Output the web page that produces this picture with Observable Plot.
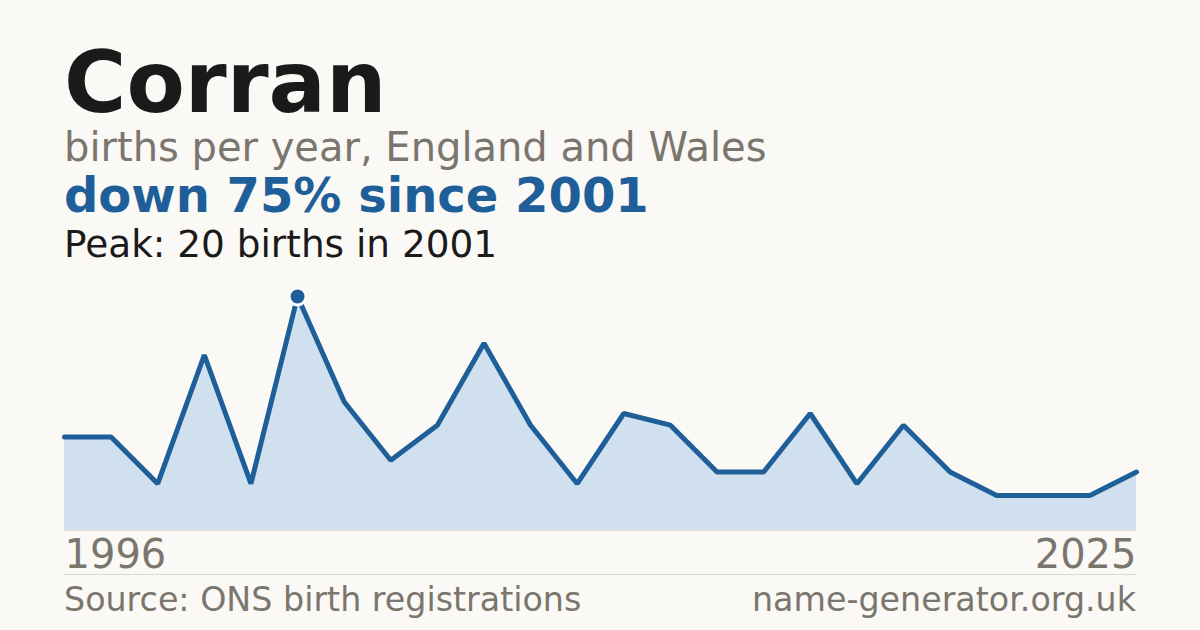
<!DOCTYPE html>
<html>
<head>
<meta charset="utf-8">
<script src="https://cdn.jsdelivr.net/npm/d3@7"></script>
<script src="https://cdn.jsdelivr.net/npm/@observablehq/plot@0.6"></script>
<style>
  html, body { margin: 0; padding: 0; background: #faf9f5; }
  body { width: 1200px; height: 630px; position: relative; overflow: hidden; font-family: "DejaVu Sans", sans-serif; }
  .t { position: absolute; left: 64px; white-space: nowrap; line-height: 0.8; }
  #title { font-size: 85px; font-weight: bold; color: #1a1a1a; top: 48.5px; }
  #sub { font-size: 40px; color: #7a766e; top: 131px; }
  #head { font-size: 48px; font-weight: bold; color: #1f5f99; top: 176px; }
  #peak { font-size: 37.4px; color: #1a1a1a; top: 229.5px; }
  #chart { position: absolute; left: 0; top: 270px; }
  #rule { position: absolute; left: 64px; width: 1072px; top: 574px; height: 1px; background: #dcd9d2; }
  .foot { position: absolute; top: 587.3px; font-size: 33.3px; color: #7a766e; white-space: nowrap; line-height: 0.8; }
  #src { left: 64px; }
  #site { right: 64px; }
</style>
</head>
<body>
<div class="t" id="title">Corran</div>
<div class="t" id="sub">births per year, England and Wales</div>
<div class="t" id="head">down 75% since 2001</div>
<div class="t" id="peak">Peak: 20 births in 2001</div>
<div id="chart"></div>
<div id="rule"></div>
<div class="foot" id="src">Source: ONS birth registrations</div>
<div class="foot" id="site">name-generator.org.uk</div>
<script>
const births = [8, 8, 4, 15, 4, 20, 11, 6, 9, 16, 9, 4, 10, 9, 5, 5, 10, 4, 9, 5, 3, 3, 3, 5];
const firstYearLabel = "1996";
const lastYearLabel = "2025";
const peakIndex = 5;

const data = births.map((v, i) => ({i, v}));
const lastI = births.length - 1;

const chart = Plot.plot({
  width: 1200,
  height: 310,
  marginLeft: 64,
  marginRight: 64,
  marginTop: 26,
  marginBottom: 50,
  x: {domain: [0, lastI], axis: null},
  y: {domain: [0, 20], axis: null},
  style: {background: "transparent", fontFamily: "DejaVu Sans, sans-serif"},
  marks: [
    Plot.areaY(data, {x: "i", y: "v", fill: "#d0e0ef"}),
    Plot.ruleY([0], {stroke: "#e4e0d6", strokeWidth: 1}),
    Plot.lineY(data, {x: "i", y: "v", stroke: "#1f5f99", strokeWidth: 5, strokeLinejoin: "miter"}),
    Plot.dot([data[peakIndex]], {x: "i", y: "v", r: 8.5, fill: "#1f5f99", stroke: "#ffffff", strokeWidth: 3}),
    Plot.text([{i: 0, label: firstYearLabel}], {x: "i", y: 0, text: "label", textAnchor: "start", lineAnchor: "top", dy: 9, fontSize: 40, fill: "#7a766e"}),
    Plot.text([{i: lastI, label: lastYearLabel}], {x: "i", y: 0, text: "label", textAnchor: "end", lineAnchor: "top", dy: 9, fontSize: 40, fill: "#7a766e"})
  ]
});
document.getElementById("chart").appendChild(chart);
</script>
</body>
</html>
